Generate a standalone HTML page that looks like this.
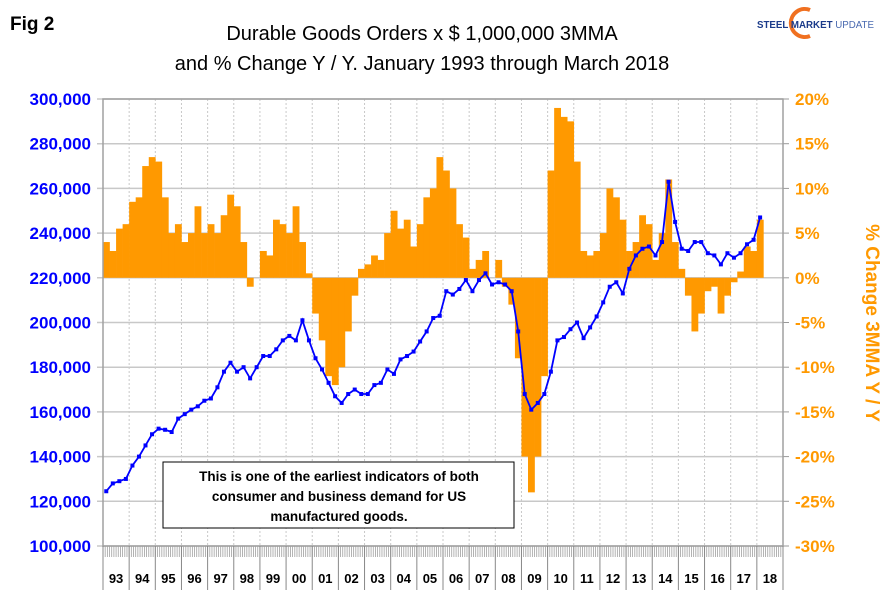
<!DOCTYPE html>
<html><head><meta charset="utf-8">
<style>
body{margin:0;background:#fff;}
svg{display:block;font-family:"Liberation Sans",Arial,sans-serif;}
</style></head>
<body>
<svg id="chart" width="889" height="594" viewBox="0 0 889 594">
<text x="10" y="30" font-size="19" font-weight="bold" fill="#000">Fig 2</text>
<text x="422" y="40" font-size="20" text-anchor="middle" fill="#000">Durable Goods Orders x $ 1,000,000 3MMA</text>
<text x="422" y="70" font-size="20" text-anchor="middle" fill="#000">and % Change Y / Y. January 1993 through March 2018</text>
<g>
<path d="M810 10 A14 14 0 1 0 810 36" fill="none" stroke="#f07020" stroke-width="4"/>
<text x="757" y="28" font-size="10.5" font-weight="bold" fill="#1a3a8a" textLength="117" lengthAdjust="spacingAndGlyphs">STEEL MARKET <tspan font-weight="normal" fill="#4a6ab0">UPDATE</tspan></text>
</g>
<g id="grid"></g>
<g id="bars"></g>
<g id="line"></g>
<g id="axes"></g>
<g>
<rect x="163" y="462" width="351" height="66" fill="#fff" stroke="#000" stroke-width="1"/>
<text x="339" y="481" font-size="13.5" font-weight="bold" text-anchor="middle">This is one of the earliest indicators of both</text>
<text x="339" y="501" font-size="13.5" font-weight="bold" text-anchor="middle">consumer and business demand for US</text>
<text x="339" y="521" font-size="13.5" font-weight="bold" text-anchor="middle">manufactured goods.</text>
</g>
<text transform="translate(866,323) rotate(90)" font-size="19" font-weight="bold" fill="#ff9900" text-anchor="middle">% Change 3MMA Y / Y</text>
</svg>
<script>
const years = ["93","94","95","96","97","98","99","00","01","02","03","04","05","06","07","08","09","10","11","12","13","14","15","16","17","18"];
const leftTicks = [100000,120000,140000,160000,180000,200000,220000,240000,260000,280000,300000];
const rightTicks = [-30,-25,-20,-15,-10,-5,0,5,10,15,20];
// quarterly values, 1993Q1 .. 2018Q1
const orders = [124.5,128,129,130,136,140,145,150,152.5,152,151,157,159,161,162.5,165,166,171,178,182,178,180,175,180,185,185,188,192,194,192,201,192,184,179,173,167,164,168,170,168,168,172,173,179,177,183.5,185,187,191.5,196,202,203,214,212.5,215,219,214,219,222,217,218,217,214,196,168,161,164,168,178,192,193.5,197,200,193,197.8,202.7,209,216,218,213,224,230,233,234,230,236,263,245,233,232,236,236,231,230,226,231,229,231,235,237,247];
const pctChange = [4,3,5.5,6,8.5,9,12.5,13.5,13,9,5,6,4,5,8,5,6,5,7,9.3,8,4,-1,0,3,2.5,6.5,6,5,8,4,0.5,-4,-7,-11,-12,-10,-6,-2,1,1.5,2.5,2,5,7.5,5.5,6.5,3.5,6,9,10,13.5,12,10,6,4.5,1,2,3,0,2,-1,-3,-9,-20,-24,-20,-11,12,19,18,17.5,13,3,2.5,3,5,10,9,6.5,3,4,7,6,2,5,11,4,1,-2,-6,-4,-1.5,-1,-4,-2,-0.5,0.7,3.5,3,6.5];

const NS="http://www.w3.org/2000/svg";
const X0=103,X1=783,Y0=99,Y1=546;
const yearW=(X1-X0)/26;
function xQ(i){return X0+(i*3+1.5)*yearW/12;}
function yL(v){return Y1-(v-100000)/200000*(Y1-Y0);}
function yR(p){return Y0+(20-p)/50*(Y1-Y0);}
function mk(tag,attrs,parent){const e=document.createElementNS(NS,tag);for(const k in attrs)e.setAttribute(k,attrs[k]);parent.appendChild(e);return e;}
const grid=document.getElementById('grid'),bars=document.getElementById('bars'),line=document.getElementById('line'),axes=document.getElementById('axes');

leftTicks.forEach((v,i)=>{
  const y=yL(v);
  const g=mk('line',{x1:X0-6,x2:X1,y1:y,y2:y,stroke:'#c8c8c8','stroke-width':1.5},grid);
  
  
  const t=mk('text',{x:X0-12,y:y+6,'text-anchor':'end','font-size':17,'font-weight':'bold',fill:'#0000ff'},axes);
  t.textContent=v.toLocaleString('en-US');
  
  
});
rightTicks.forEach(p=>{
  const y=yR(p);
  mk('line',{x1:X1,x2:X1+6,y1:y,y2:y,stroke:'#999','stroke-width':1},axes);
  const t=mk('text',{x:X1+12,y:y+6,'font-size':17,'font-weight':'bold',fill:'#ff9900'},axes);
  t.textContent=p+'%';
  
  
});
for(let k=1;k<26;k++){
  const x=X0+k*yearW;
  const g=mk('line',{x1:x,x2:x,y1:Y0,y2:Y1,stroke:'#c8c8c8','stroke-width':1,'stroke-dasharray':'2,2'},grid);
  
  
}
const zero=yR(0),bw=yearW/4;
pctChange.forEach((p,i)=>{
  const y=yR(p),x=xQ(i)-bw/2;
  const r=mk('rect',{x:x,y:Math.min(y,zero),width:bw+0.3,height:Math.abs(y-zero),fill:'#ff9900'},bars);
  
  
});
const pts=orders.map((v,i)=>xQ(i).toFixed(1)+','+yL(v*1000).toFixed(1)).join(' ');
const pl=mk('polyline',{points:pts,fill:'none',stroke:'#0000ff','stroke-width':1.8},line);


orders.forEach((v,i)=>{
  const m=mk('rect',{x:xQ(i)-2,y:yL(v*1000)-2,width:4,height:4,fill:'#0000ff'},line);
  
  
});
mk('rect',{x:X0,y:Y0,width:X1-X0,height:Y1-Y0,fill:'none',stroke:'#a0a0a0','stroke-width':1.5},axes);
for(let m=0;m<=312;m++){
  const x=X0+m*yearW/12;
  mk('line',{x1:x,x2:x,y1:Y1,y2:Y1+11,stroke:'#a0a0a0','stroke-width':0.8},axes);
}
years.forEach((yr,k)=>{
  const x=X0+k*yearW;
  mk('line',{x1:x,x2:x,y1:Y1,y2:590,stroke:'#888','stroke-width':1},axes);
  const t=mk('text',{x:x+yearW/2,y:583,'text-anchor':'middle','font-size':13,'font-weight':'bold',fill:'#000'},axes);
  t.textContent=yr;
  
  
});
mk('line',{x1:X1,x2:X1,y1:Y1,y2:590,stroke:'#888','stroke-width':1},axes);
</script>
</body></html>
